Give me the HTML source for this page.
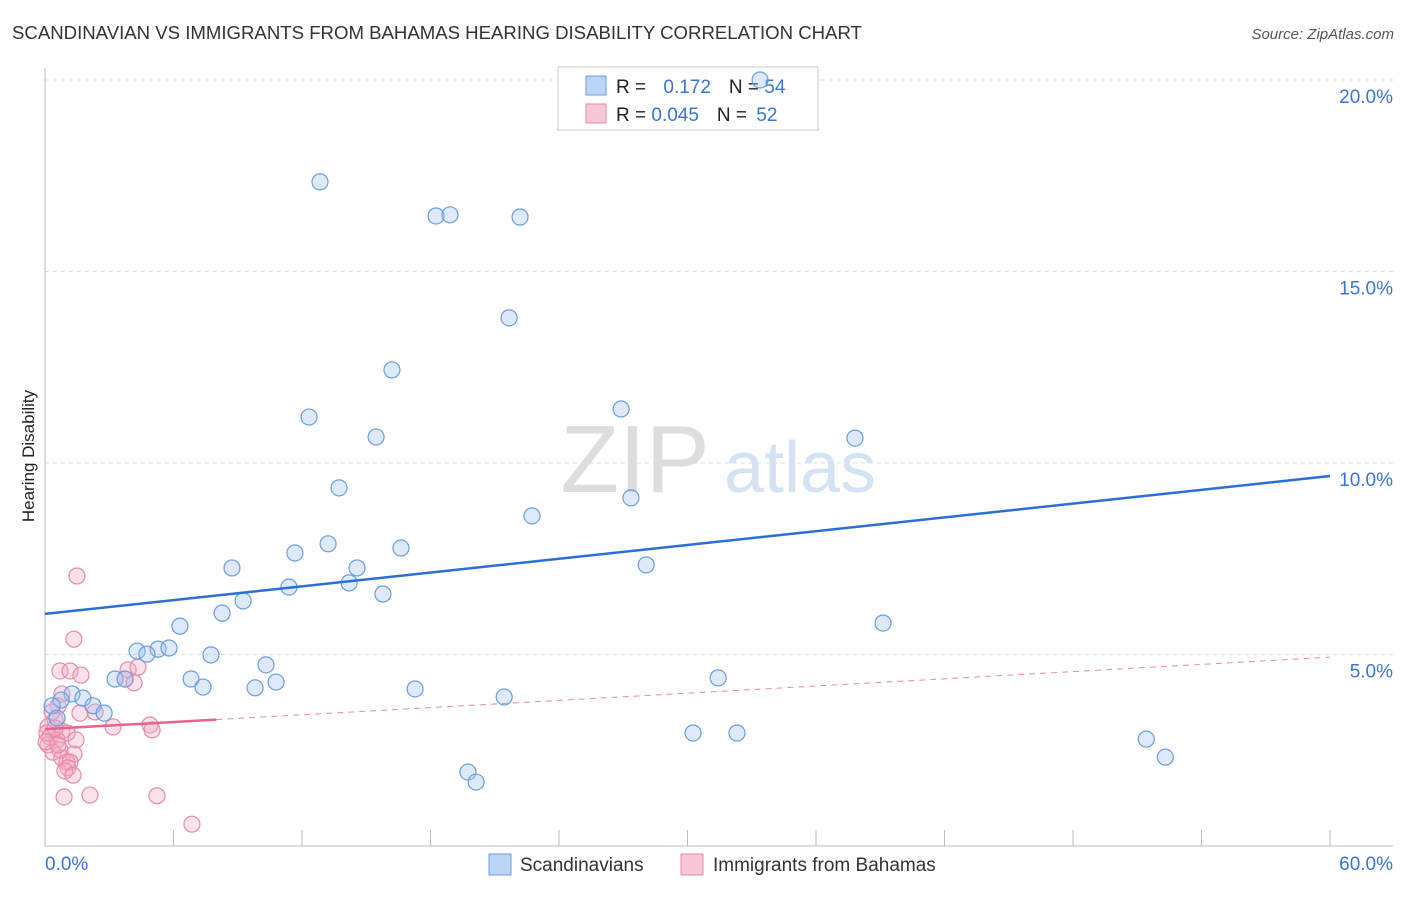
<!DOCTYPE html>
<html><head><meta charset="utf-8"><style>
body{margin:0;background:#fff;font-family:"Liberation Sans",sans-serif}
svg text{font-family:"Liberation Sans",sans-serif}
</style></head><body>
<svg id="chart" width="1406" height="892" viewBox="0 0 1406 892">
<text x="12" y="39" font-size="18.6" fill="#333">SCANDINAVIAN VS IMMIGRANTS FROM BAHAMAS HEARING DISABILITY CORRELATION CHART</text>
<text x="1394" y="39" font-size="15" fill="#555" font-style="italic" text-anchor="end">Source: ZipAtlas.com</text>
<text x="34" y="456" font-size="17" fill="#222" text-anchor="middle" transform="rotate(-90 34 456)">Hearing Disability</text>
<g>
<text x="635" y="492" font-size="96" fill="#ddd" font-family="Liberation Serif" text-anchor="middle">ZIP</text>
<text x="800" y="492" font-size="72" fill="#d4e2f4" text-anchor="middle">atlas</text>
</g>
<g id="grid"></g>
<g id="axes"></g>
<g>
<rect x="558" y="67" width="260" height="63" fill="#fff" stroke="#ccc"/>
<rect x="586" y="76" width="20" height="19" fill="#bcd4f5" stroke="#6a9de0"/>
<rect x="586" y="104" width="20" height="19" fill="#f9c6d5" stroke="#e88aa8"/>
<text x="616" y="93" font-size="19" fill="#222">R = <tspan fill="#3a75d4" dx="12">0.172</tspan><tspan dx="18" fill="#222">N = </tspan><tspan fill="#3a75d4">54</tspan></text>
<text x="616" y="121" font-size="19" fill="#222">R = <tspan fill="#3a75d4">0.045</tspan><tspan dx="18" fill="#222">N = </tspan><tspan fill="#3a75d4" dx="4">52</tspan></text>
</g>
<g id="marks"></g>
<g>
<rect x="489" y="854" width="22" height="21" fill="#bcd4f5" stroke="#6a9de0"/>
<text x="520" y="871" font-size="19" fill="#333">Scandinavians</text>
<rect x="681" y="854" width="22" height="21" fill="#f9c6d5" stroke="#e88aa8"/>
<text x="713" y="871" font-size="19" fill="#333">Immigrants from Bahamas</text>
</g>
</svg>
<script>
const blueX=[33.39,12.84,18.26,18.91,22.18,21.67,16.20,12.33,15.46,26.90,37.82,13.73,27.36,22.74,13.22,11.67,16.62,8.73,14.57,28.07,11.39,14.20,9.25,15.78,8.27,39.13,6.30,4.30,5.28,5.79,4.76,7.75,10.32,6.82,7.38,9.81,10.79,3.27,3.74,17.28,21.44,31.43,1.26,1.77,0.75,2.24,2.76,0.33,0.56,30.26,32.31,51.42,52.31,19.75,20.13];
const blueY=[20.0,17.34,16.45,16.48,16.42,13.79,12.43,11.20,10.68,11.41,10.65,9.35,9.09,8.62,7.89,7.65,7.78,7.26,7.26,7.34,6.76,6.87,6.40,6.58,6.08,5.82,5.74,5.09,5.14,5.17,5.01,4.99,4.73,4.36,4.15,4.13,4.28,4.36,4.36,4.10,3.89,4.39,3.97,3.86,3.81,3.66,3.47,3.66,3.34,2.95,2.95,2.79,2.32,1.93,1.67];
const pinkX=[1.49,1.35,0.70,1.17,1.68,3.88,4.34,3.74,4.16,0.79,0.61,2.34,1.63,0.33,0.47,0.14,0.79,3.18,4.90,5.00,1.03,0.23,0.56,1.45,0.14,0.70,0.37,1.35,0.79,1.03,1.17,1.07,0.93,1.31,0.89,2.10,5.23,6.86,0.09,0.47,0.05,0.61];
const pinkY=[7.05,5.40,4.57,4.57,4.46,4.60,4.67,4.36,4.26,3.97,3.66,3.50,3.47,3.50,3.29,3.11,3.00,3.11,3.16,3.03,2.95,2.85,2.77,2.77,2.64,2.51,2.45,2.40,2.30,2.19,2.19,2.04,1.96,1.85,1.28,1.33,1.31,0.57,2.95,3.08,2.72,2.64];
const blueTrend=[6.06,9.66];
const pinkTrend=[3.05,4.93];
const pinkSolidEnd=8.0;
const yTicks=[5,10,15,20];
const xTickLabels=["0.0%","60.0%"];
const NS="http://www.w3.org/2000/svg";
const X=v=>45+v/60*1285, Y=v=>846-v/5*191.5;
function mk(t,a,p){const e=document.createElementNS(NS,t);for(const k in a)e.setAttribute(k,a[k]);p.appendChild(e);return e;}
const grid=document.getElementById('grid'),axes=document.getElementById('axes'),marks=document.getElementById('marks');
yTicks.forEach(v=>{
 const l=mk('line',{x1:45,x2:1393,y1:Y(v),y2:Y(v),stroke:'#ddd','stroke-dasharray':'4,4'},grid);
 
 
 const t=mk('text',{x:1393,y:Y(v)+23,'font-size':19,fill:'#3a75d4','text-anchor':'end'},grid);
 t.textContent=v.toFixed(1)+'%';
 
 
});
const ya=mk('line',{x1:45,x2:45,y1:68,y2:846,stroke:'#bbb'},axes);


const xa=mk('line',{x1:45,x2:1393,y1:846,y2:846,stroke:'#bbb'},axes);


for(let i=0;i<=10;i++){const tk=mk('line',{x1:X(i*6),x2:X(i*6),y1:830,y2:846,stroke:'#bbb'},axes);
 
 }
[[0,45,'start'],[1,1393,'end']].forEach(([i,x,a])=>{const t=mk('text',{x:x,y:870,'font-size':19,fill:'#3a75d4','text-anchor':a},axes);t.textContent=xTickLabels[i];
 
 });
pinkX.forEach((v,i)=>{const c=mk('circle',{cx:X(v),cy:Y(pinkY[i]),r:8,fill:'rgba(244,170,195,0.35)',stroke:'#e88aa8','stroke-width':1.2},marks);
 
 });
blueX.forEach((v,i)=>{const c=mk('circle',{cx:X(v),cy:Y(blueY[i]),r:8,fill:'rgba(160,195,240,0.35)',stroke:'#6a9de0','stroke-width':1.2},marks);
 
 });
const pt=v=>pinkTrend[0]+(pinkTrend[1]-pinkTrend[0])*v/60;
const pd=mk('line',{x1:X(pinkSolidEnd),y1:Y(pt(pinkSolidEnd)),x2:X(60),y2:Y(pinkTrend[1]),stroke:'#e88aa8','stroke-dasharray':'6,5','stroke-width':1},marks);


const ps=mk('line',{x1:X(0),y1:Y(pinkTrend[0]),x2:X(pinkSolidEnd),y2:Y(pt(pinkSolidEnd)),stroke:'#e8628e','stroke-width':2.5},marks);


const bl=mk('line',{x1:X(0),y1:Y(blueTrend[0]),x2:X(60),y2:Y(blueTrend[1]),stroke:'#2a6fd6','stroke-width':2.5},marks);


</script>
</body></html>
